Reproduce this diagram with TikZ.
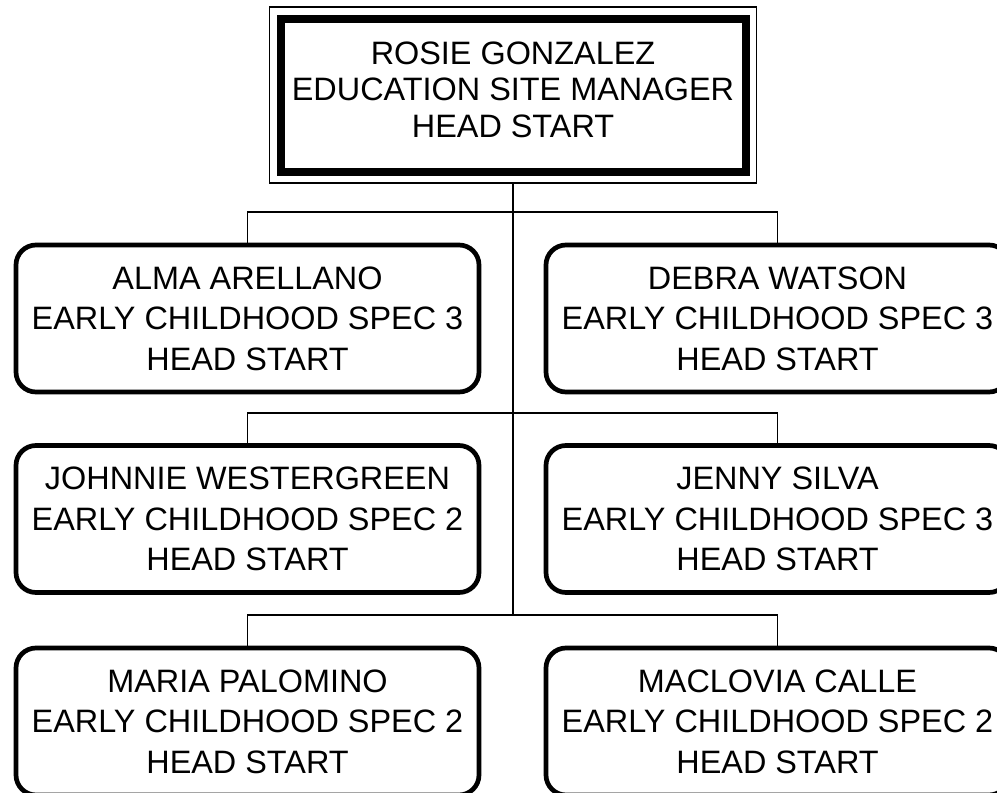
\documentclass[tikz,border=0pt]{standalone}
\usepackage{fontspec}
\setmainfont{Liberation Sans}
\begin{document}
\begin{tikzpicture}[x=1pt,y=-1pt,
  box/.style={draw, line width=4.7pt, rounded corners=20pt, minimum width=463pt,
    minimum height=147pt, align=center, inner sep=0pt,
    font=\fontsize{32.4}{40.5}\selectfont},
  topthick/.style={draw, line width=8pt, minimum width=465pt, minimum height=153pt, inner sep=0pt},
  topthin/.style={draw, line width=1.8pt, minimum width=487pt, minimum height=176pt, inner sep=0pt},
  toptext/.style={align=center, inner sep=0pt, font=\fontsize{32.4}{36.6}\selectfont},
  conn/.style={draw, line width=1.6pt}]
\useasboundingbox (0,0) rectangle (997,793);

\node[topthin] (topouter) at (513,95) {};
\node[topthick] (topinner) at (513,95.5) {};
\node[toptext] (toptxt) at (513,89.5) {ROSIE GONZALEZ\\EDUCATION SITE MANAGER\\HEAD START};

\node[box] (a) at (247.5,318.5) {ALMA ARELLANO\\EARLY CHILDHOOD SPEC 3\\HEAD START};
\node[box] (b) at (777.5,318.5) {DEBRA WATSON\\EARLY CHILDHOOD SPEC 3\\HEAD START};
\node[box] (c) at (247.5,519) {JOHNNIE WESTERGREEN\\EARLY CHILDHOOD SPEC 2\\HEAD START};
\node[box] (d) at (777.5,519) {JENNY SILVA\\EARLY CHILDHOOD SPEC 3\\HEAD START};
\node[box] (e) at (247.5,721.5) {MARIA PALOMINO\\EARLY CHILDHOOD SPEC 2\\HEAD START};
\node[box] (f) at (777.5,721.5) {MACLOVIA CALLE\\EARLY CHILDHOOD SPEC 2\\HEAD START};

\coordinate (s1) at (513,212);
\coordinate (s2) at (513,413);
\coordinate (s3) at (513,615);

\draw[conn] (topouter.south) -- (s3);
\draw[conn] (a.north) |- (s1) -| (b.north);
\draw[conn] (c.north) |- (s2) -| (d.north);
\draw[conn] (e.north) |- (s3) -| (f.north);
\end{tikzpicture}
\end{document}
